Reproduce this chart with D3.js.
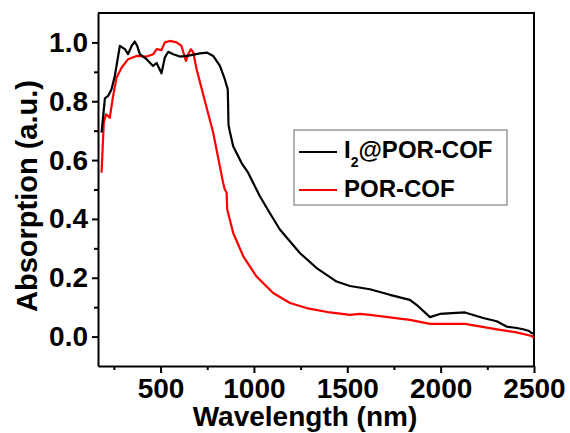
<!DOCTYPE html>
<html>
<head>
<meta charset="utf-8">
<script src="https://cdn.jsdelivr.net/npm/d3@7"></script>
<style>
  body { margin: 0; background: #fff; }
  text { font-family: "Liberation Sans", Arial, sans-serif; font-weight: bold; }
</style>
</head>
<body>
<svg width="570" height="433"></svg>
<script>
// I2@POR-COF (black)
const iodX = [184, 202, 219, 237, 255, 282, 309, 326, 345, 362, 375, 389, 425, 460, 479, 505, 523, 541, 568, 603, 650, 711, 750, 782, 818, 844, 860, 864, 870, 889, 934, 969, 1032, 1085, 1139, 1246, 1336, 1443, 1514, 1621, 1728, 1835, 1871, 1943, 1996, 2060, 2130, 2228, 2300, 2353, 2400, 2442, 2470, 2488, 2500];
const iodY = [0.693, 0.81, 0.818, 0.84, 0.886, 0.988, 0.977, 0.96, 0.988, 1.003, 0.988, 0.96, 0.943, 0.92, 0.93, 0.895, 0.949, 0.968, 0.96, 0.952, 0.955, 0.963, 0.965, 0.954, 0.92, 0.875, 0.84, 0.72, 0.70, 0.647, 0.59, 0.557, 0.477, 0.42, 0.364, 0.284, 0.233, 0.187, 0.172, 0.161, 0.142, 0.125, 0.108, 0.066, 0.077, 0.08, 0.082, 0.063, 0.052, 0.034, 0.03, 0.025, 0.02, 0.012, 0.01];

// POR-COF (red)
const porX = [184, 196, 207, 219, 228, 246, 264, 291, 326, 371, 425, 461, 479, 505, 523, 550, 586, 612, 636, 648, 662, 675, 693, 711, 728, 782, 835, 844, 854, 857, 889, 943, 1014, 1103, 1193, 1282, 1407, 1514, 1568, 1621, 1835, 1943, 2130, 2318, 2400, 2488, 2500];
const porY = [0.557, 0.727, 0.755, 0.75, 0.744, 0.818, 0.88, 0.914, 0.943, 0.954, 0.952, 0.96, 0.977, 0.974, 1.0, 1.005, 1.0, 0.988, 0.937, 0.96, 0.977, 0.966, 0.909, 0.865, 0.824, 0.693, 0.523, 0.5, 0.489, 0.432, 0.352, 0.273, 0.204, 0.148, 0.114, 0.097, 0.082, 0.074, 0.077, 0.074, 0.057, 0.043, 0.043, 0.023, 0.015, 0.002, -0.005];

const xTicks = [500, 1000, 1500, 2000, 2500];
const xMinor = [250, 750, 1250, 1750, 2250];
const yTicks = [0.0, 0.2, 0.4, 0.6, 0.8, 1.0];
const yMinor = [0.1, 0.3, 0.5, 0.7, 0.9];

const width = 570, height = 433;
const margin = { top: 13, right: 36, bottom: 67, left: 98 };

const svg = d3.select("svg");

const x = d3.scaleLinear().domain([165, 2500]).range([margin.left, width - margin.right]);
const y = d3.scaleLinear().domain([-0.1, 1.1]).range([height - margin.bottom, margin.top]);

// frame (top + right)
svg.append("path")
    .attr("d", `M${margin.left},${margin.top}H${width - margin.right}V${height - margin.bottom}`)
    .attr("fill", "none").attr("stroke", "#000").attr("stroke-width", 2);

// x axis
svg.append("g").attr("transform", `translate(0,${height - margin.bottom})`)
    .call(d3.axisBottom(x).tickValues(xTicks).tickFormat(d3.format("d")).tickSize(7).tickSizeOuter(0).tickPadding(5));
svg.append("g").attr("transform", `translate(0,${height - margin.bottom})`)
    .call(d3.axisBottom(x).tickValues(xMinor).tickSize(4).tickFormat("").tickSizeOuter(0))
    .select(".domain").remove();

// y axis
svg.append("g").attr("transform", `translate(${margin.left},0)`)
    .call(d3.axisLeft(y).tickValues(yTicks).tickFormat(d3.format(".1f")).tickSize(6).tickSizeOuter(0).tickPadding(4));
svg.append("g").attr("transform", `translate(${margin.left},0)`)
    .call(d3.axisLeft(y).tickValues(yMinor).tickSize(4).tickFormat("").tickSizeOuter(0))
    .select(".domain").remove();

svg.selectAll(".domain, .tick line").attr("stroke", "#000").attr("stroke-width", 2);
svg.selectAll(".tick text").attr("font-size", 28).attr("fill", "#000")
    .attr("font-family", "'Liberation Sans', Arial, sans-serif").attr("font-weight", "bold");

// axis titles
svg.append("text")
    .attr("x", 305).attr("y", 426)
    .attr("text-anchor", "middle").attr("font-size", 28)
    .text("Wavelength (nm)");
svg.append("text")
    .attr("transform", "translate(37,196) rotate(-90)")
    .attr("text-anchor", "middle").attr("font-size", 29)
    .text("Absorption (a.u.)");

// curves
const line = d3.line().x(d => x(d[0])).y(d => y(d[1]));
const series = [
  { xs: porX, ys: porY, color: "#f00" },
  { xs: iodX, ys: iodY, color: "#000" }
];
const plot = svg.append("g");
series.forEach(s => {
  plot.append("path")
      .datum(s.xs.map((v, i) => [v, s.ys[i]]))
      .attr("fill", "none")
      .attr("stroke", s.color)
      .attr("stroke-width", 2.2)
      .attr("stroke-linejoin", "round")
      .attr("d", line);
});

// legend
const lg = svg.append("g");
lg.append("rect").attr("x", 294).attr("y", 130).attr("width", 213).attr("height", 75)
    .attr("fill", "#fff").attr("stroke", "#999").attr("stroke-width", 1.5);
lg.append("line").attr("x1", 299).attr("x2", 337).attr("y1", 152).attr("y2", 152)
    .attr("stroke", "#000").attr("stroke-width", 2.2);
lg.append("line").attr("x1", 299).attr("x2", 337).attr("y1", 190).attr("y2", 190)
    .attr("stroke", "#f00").attr("stroke-width", 2.2);
const t1 = lg.append("text").attr("x", 344).attr("y", 158).attr("font-size", 24);
t1.append("tspan").text("I");
t1.append("tspan").attr("font-size", 14).attr("dy", 9).text("2");
t1.append("tspan").attr("dy", -9).text("@POR-COF");
lg.append("text").attr("x", 344).attr("y", 197).attr("font-size", 24).text("POR-COF");
</script>
</body>
</html>
